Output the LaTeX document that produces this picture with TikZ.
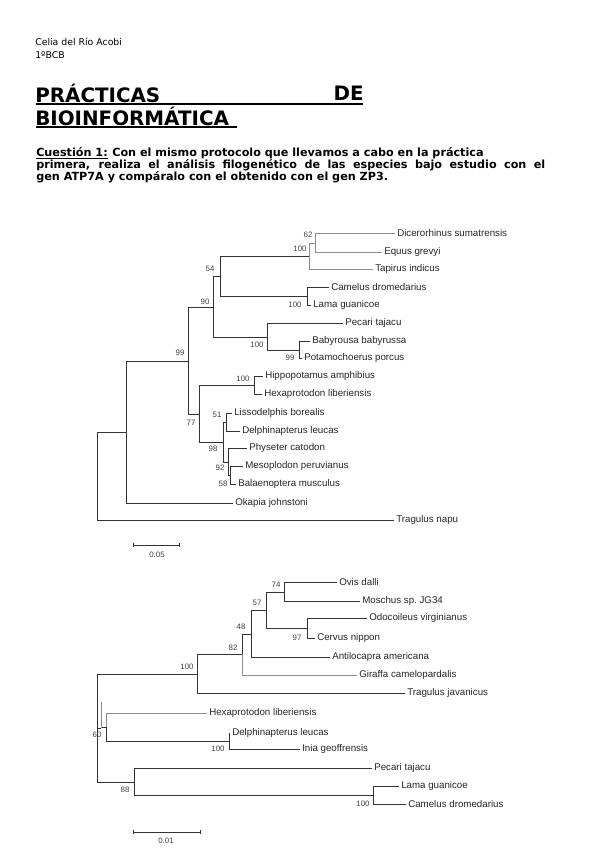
\documentclass[tikz,border=0pt]{standalone}
\usepackage{fontspec}
\setmainfont{DejaVu Sans}
\newfontfamily\arialfont{Liberation Sans}
\usetikzlibrary{arrows.meta, positioning}

\tikzset{
  hdr/.style={inner sep=0pt, font=\fontsize{7}{8}\selectfont},
  title/.style={inner sep=0pt, font=\bfseries\fontsize{14.9}{17}\selectfont},
  quest/.style={inner sep=0pt, text height=0.75em, text depth=0.22em,
                font=\bfseries\fontsize{8.4}{9}\selectfont},
  uline/.style={line width=1.2pt},
  branch/.style={draw=black!80, line width=0.6pt},
  faint/.style={draw=black!45, line width=0.6pt},
  leaf/.style={anchor=west, inner sep=1.5pt, text=black!85,
               font=\arialfont\fontsize{7.3}{8}\selectfont},
  boot/.style={inner sep=0pt, text=black!75,
               font=\arialfont\fontsize{5.9}{7}\selectfont},
  scalebar/.style={draw=black!80, line width=0.6pt,
                   {Bar[width=3pt]}-{Bar[width=3pt]}}
}

\begin{document}
\begin{tikzpicture}[x=0.75pt, y=-0.75pt, >=Stealth]
  \useasboundingbox[fill=white] (0,0) rectangle (599,848);

  % header
  \node[hdr, anchor=west] (author) at (35,42) {Celia del Río Acobi};
  \node[hdr, anchor=west] (course) at (35,55) {1ºBCB};

  % title, justified over two lines
  \node[title, anchor=west] (tit1) at (35,93) {PRÁCTICAS};
  \node[title, anchor=east] (tit2) at (364,93) {DE};
  \node[title, anchor=west] (tit3) at (35,116) {BIOINFORMÁTICA};
  \coordinate (ul1a) at (36,104);  \coordinate (ul1b) at (363,104);
  \coordinate (ul2a) at (36,127);  \coordinate (ul2b) at (237,127);
  \draw[uline] (ul1a) -- (ul1b);
  \draw[uline] (ul2a) -- (ul2b);

  % question
  \node[quest, anchor=west] (q1a) at (36,153) {Cuestión 1:};
  \node[quest, right=0.3em of q1a] (q1b)
    {Con el mismo protocolo que llevamos a cabo en la práctica};
  \node[quest, anchor=west, text width=381.75pt, align=justify] (q2) at (36,165)
    {\parfillskip=0pt primera, realiza el análisis filogenético de las especies bajo estudio con el\par};
  \node[quest, anchor=west] (q3) at (36,177)
    {gen ATP7A y compáralo con el obtenido con el gen ZP3.};
  \draw[line width=0.5pt] ([yshift=-1.3pt]q1a.base west) -- ([yshift=-1.3pt]q1a.base east);

  % ---------------- tree 1 (ATP7A) ----------------
  \coordinate (ta)    at (97,476);
  \coordinate (tb)    at (126,432);
  \coordinate (t99)   at (188,361);
  \coordinate (t90)   at (213,307);
  \coordinate (t54)   at (220,276);
  \coordinate (t100r) at (309,256);
  \coordinate (t62)   at (315,243);
  \coordinate (t100c) at (307,296);
  \coordinate (t100p) at (267,337);
  \coordinate (t99s)  at (299,350);
  \coordinate (t77)   at (199,414);
  \coordinate (t100h) at (254,385);
  \coordinate (t98)   at (223,442);
  \coordinate (t51)   at (226,422);
  \coordinate (t92)   at (228,462);
  \coordinate (t58)   at (230,475);

  \node[leaf] (dicer)   at (395,233) {Dicerorhinus sumatrensis};
  \node[leaf] (equus)   at (382,252) {Equus grevyi};
  \node[leaf] (tapir)   at (373,269) {Tapirus indicus};
  \node[leaf] (camel1)  at (329,287) {Camelus dromedarius};
  \node[leaf] (lama1)   at (311,305) {Lama guanicoe};
  \node[leaf] (pecari1) at (343,323) {Pecari tajacu};
  \node[leaf] (babyr)   at (310,341) {Babyrousa babyrussa};
  \node[leaf] (potam)   at (302,358) {Potamochoerus porcus};
  \node[leaf] (hippo)   at (263,376) {Hippopotamus amphibius};
  \node[leaf] (hexa1)   at (262,394) {Hexaprotodon liberiensis};
  \node[leaf] (lisso)   at (232,413) {Lissodelphis borealis};
  \node[leaf] (delph1)  at (240,431) {Delphinapterus leucas};
  \node[leaf] (physe)   at (247,448) {Physeter catodon};
  \node[leaf] (mesop)   at (243,466) {Mesoplodon peruvianus};
  \node[leaf] (balae)   at (236,484) {Balaenoptera musculus};
  \node[leaf] (okapi)   at (233,503) {Okapia johnstoni};
  \node[leaf] (tnapu)   at (394,520) {Tragulus napu};

  \foreach \p/\c in {ta/tb, ta/tnapu, tb/t99, tb/okapi, t99/t90, t99/t77,
                     t90/t54, t90/t100p, t54/t100r, t54/t100c,
                     t100c/camel1, t100c/lama1, t100p/pecari1, t100p/t99s,
                     t99s/babyr, t99s/potam, t77/t100h, t100h/hippo,
                     t100h/hexa1, t77/t98, t98/t51, t98/t92, t51/lisso,
                     t51/delph1, t92/physe, t92/t58, t58/mesop, t58/balae}
    \draw[branch] (\p) |- (\c);
  \foreach \p/\c in {t100r/t62, t100r/tapir, t62/dicer, t62/equus}
    \draw[faint] (\p) |- (\c);

  \node[boot] (bt62)   at (308,235) {62};
  \node[boot] (bt100r) at (300,249) {100};
  \node[boot] (bt54)   at (210,269) {54};
  \node[boot] (bt90)   at (205,302) {90};
  \node[boot] (bt100c) at (295,305) {100};
  \node[boot] (bt100p) at (257,345) {100};
  \node[boot] (bt99s)  at (290,358) {99};
  \node[boot] (bt99)   at (180,353) {99};
  \node[boot] (bt100h) at (243,379) {100};
  \node[boot] (bt77)   at (191,423) {77};
  \node[boot] (bt51)   at (217,415) {51};
  \node[boot] (bt98)   at (213,449) {98};
  \node[boot] (bt92)   at (220,468) {92};
  \node[boot] (bt58)   at (223,484) {58};

  \coordinate (s1a) at (133,545);  \coordinate (s1b) at (180,545);
  \draw[scalebar] (s1a) -- (s1b);
  \node[boot] (s1l) at (157,555) {0.05};

  % ---------------- tree 2 (ZP3) ----------------
  \coordinate (ua)    at (97,728);
  \coordinate (u60)   at (101,728);
  \coordinate (uwh)   at (106,727);
  \coordinate (u100d) at (229,741);
  \coordinate (u88)   at (134,782);
  \coordinate (u100c) at (373,795);
  \coordinate (u100)  at (197,674);
  \coordinate (u82)   at (242,654);
  \coordinate (u48)   at (251,634);
  \coordinate (u57)   at (266,610);
  \coordinate (u74)   at (284,592);
  \coordinate (u97)   at (307,628);

  \node[leaf] (ovis)    at (337,582) {Ovis dalli};
  \node[leaf] (mosch)   at (360,601) {Moschus sp.\ JG34};
  \node[leaf] (odoco)   at (367,618) {Odocoileus virginianus};
  \node[leaf] (cervus)  at (315,638) {Cervus nippon};
  \node[leaf] (antil)   at (330,657) {Antilocapra americana};
  \node[leaf] (giraf)   at (357,675) {Giraffa camelopardalis};
  \node[leaf] (tjava)   at (405,693) {Tragulus javanicus};
  \node[leaf] (hexa2)   at (207,713) {Hexaprotodon liberiensis};
  \node[leaf] (delph2)  at (230,733) {Delphinapterus leucas};
  \node[leaf] (inia)    at (300,749) {Inia geoffrensis};
  \node[leaf] (pecari2) at (372,768) {Pecari tajacu};
  \node[leaf] (lama2)   at (399,786) {Lama guanicoe};
  \node[leaf] (camel2)  at (406,804) {Camelus dromedarius};

  \foreach \p/\c in {ua/u100, ua/u60, u60/uwh, ua/u88, u100/u82, u100/tjava,
                     u82/u48, u48/u57, u48/antil, u57/u74, u57/u97,
                     u74/ovis, u74/mosch, u97/odoco, u97/cervus, uwh/u100d,
                     u100d/delph2, u100d/inia, u88/pecari2, u88/u100c,
                     u100c/lama2, u100c/camel2}
    \draw[branch] (\p) |- (\c);
  \foreach \p/\c in {u82/giraf, uwh/hexa2}
    \draw[faint] (\p) |- (\c);
  \draw[faint] (u60) -- ++(0,-26);

  \node[boot] (bu74)   at (276,585) {74};
  \node[boot] (bu57)   at (257,603) {57};
  \node[boot] (bu97)   at (297,638) {97};
  \node[boot] (bu48)   at (241,627) {48};
  \node[boot] (bu82)   at (233,648) {82};
  \node[boot] (bu100)  at (187,667) {100};
  \node[boot] (bu60)   at (97,735)  {60};
  \node[boot] (bu100d) at (218,749) {100};
  \node[boot] (bu88)   at (125,790) {88};
  \node[boot] (bu100c) at (363,804) {100};

  \coordinate (s2a) at (133,832);  \coordinate (s2b) at (201,832);
  \draw[scalebar] (s2a) -- (s2b);
  \node[boot] (s2l) at (166,841) {0.01};
\end{tikzpicture}
\end{document}
